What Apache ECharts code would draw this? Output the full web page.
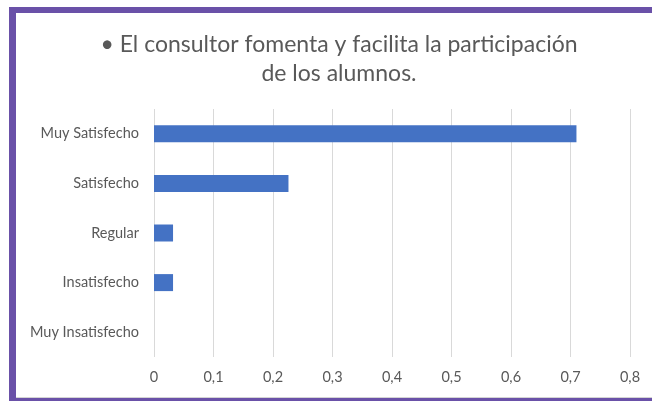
<!DOCTYPE html>
<html>
<head>
<meta charset="utf-8">
<script src="https://cdn.jsdelivr.net/npm/echarts@6/dist/echarts.min.js"></script>
<style>
  html, body { margin: 0; padding: 0; background: #fff; overflow: hidden; }
  .frame {
    position: absolute;
    left: 9px; top: 7px;
    width: 700px; height: 385px;
    border-left: 7px solid #6a51a8;
    border-top: 6px solid #6a51a8;
    border-bottom: 4px solid #6a51a8;
    box-shadow: inset 0 -1px 0 #d4d4d4;
  }
  #chart { position: absolute; left: 0; top: 0; width: 652px; height: 401px; }
</style>
</head>
<body>
<div class="frame"></div>
<div id="chart"></div>
<script>
// datos
const categorias = ['Muy Satisfecho', 'Satisfecho', 'Regular', 'Insatisfecho', 'Muy Insatisfecho']
const valores = [0.71, 0.226, 0.032, 0.032, 0]
const etiquetasX = ['0', '0,1', '0,2', '0,3', '0,4', '0,5', '0,6', '0,7', '0,8']

const chart = echarts.init(document.getElementById('chart'))
const option = {
  backgroundColor: 'transparent',
  title: {
    text: '• El consultor fomenta y facilita la participación\nde los alumnos.',
    left: 339,
    top: 30,
    padding: 0,
    textAlign: 'center',
    textStyle: {
      fontFamily: 'Lato',
      fontSize: 23,
      fontWeight: 'normal',
      color: '#595959',
      lineHeight: 29
    }
  },
  grid: {
    left: 154,
    right: 22,
    top: 109,
    bottom: 44,
    containLabel: false,
    outerBoundsMode: 'none'
  },
  xAxis: {
    type: 'value',
    min: 0,
    max: 0.8,
    interval: 0.1,
    axisLine: { show: false },
    axisTick: { show: false },
    splitLine: { lineStyle: { color: '#d9d9d9', width: 1 } },
    axisLabel: {
      margin: 13,
      color: '#595959',
      fontFamily: 'Lato',
      fontSize: 14.5,
      formatter: (v) => etiquetasX[Math.round(v * 10)]
    }
  },
  yAxis: {
    type: 'category',
    inverse: true,
    data: categorias,
    axisLine: { show: false },
    axisTick: { show: false },
    axisLabel: {
      margin: 15,
      color: '#595959',
      fontFamily: 'Lato',
      fontSize: 14.5
    }
  },
  series: [
    {
      type: 'bar',
      data: valores,
      barWidth: 17,
      itemStyle: { color: '#4472c4' }
    }
  ]
}
chart.setOption(option)
</script>
</body>
</html>
